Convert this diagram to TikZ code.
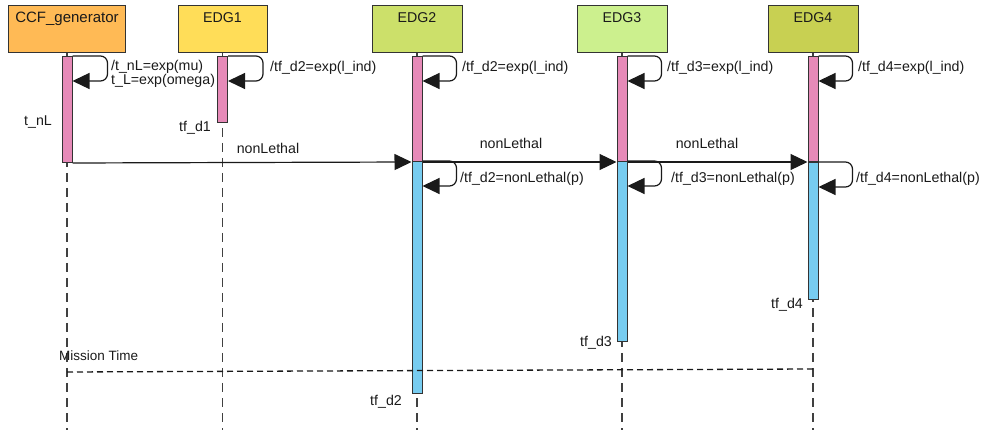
\documentclass[tikz,border=0pt]{standalone}
\usepackage{fontspec}
\setmainfont{Liberation Sans}
\usetikzlibrary{arrows.meta}
\definecolor{ccfc}{HTML}{FFBA55}
\definecolor{edgone}{HTML}{FFDD58}
\definecolor{edgtwo}{HTML}{CCE06A}
\definecolor{edgthree}{HTML}{CCF08E}
\definecolor{edgfour}{HTML}{C8D052}
\definecolor{barpink}{HTML}{E68AB8}
\definecolor{barblue}{HTML}{77CCF0}
\definecolor{ink}{HTML}{1A1A1A}
\begin{document}
\begin{tikzpicture}[x=1pt,y=-1pt,
  box/.style={draw=black!80, line width=1pt, minimum height=47pt, inner sep=0, anchor=north},
  bar/.style={draw=black!80, line width=1pt, minimum width=10pt, inner sep=0, anchor=north},
  pinkbar/.style={bar, fill=barpink},
  bluebar/.style={bar, fill=barblue},
  life/.style={draw=black!75, dash pattern=on 9pt off 6pt, line width=1.1pt},
  mission/.style={draw=black!90, dash pattern=on 6pt off 4pt, line width=1.3pt},
  msg/.style={draw=ink, line width=1.2pt, -{Triangle[length=17pt,width=16pt]}},
  loopmsg/.style={msg, rounded corners=7pt},
  lbl/.style={text=ink, font=\fontsize{14.2}{14}\selectfont, inner sep=0},
  title/.style={lbl, anchor=base},
]
\useasboundingbox (0,0) rectangle (983,430);
\coordinate (bot) at (0,430);

% header boxes
\node[box, fill=ccfc, minimum width=117pt] (ccf) at (67,5) {};
\node[box, fill=edgone, minimum width=89pt] (e1) at (222.5,5) {};
\node[box, fill=edgtwo, minimum width=90pt] (e2) at (417,5) {};
\node[box, fill=edgthree, minimum width=90pt] (e3) at (622,5) {};
\node[box, fill=edgfour, minimum width=90pt] (e4) at (813,5) {};
\node[title, font=\fontsize{15}{15}\selectfont] (tccf) at (67,23) {CCF\_generator};
\node[title] (te1) at (222.5,23) {EDG1};
\node[title] (te2) at (417,23) {EDG2};
\node[title] (te3) at (622,23) {EDG3};
\node[title] (te4) at (813,23) {EDG4};

% lifelines
\foreach \n in {ccf,e1,e2,e3,e4}
  \draw[life] (\n.south) -- (\n.south |- bot);

% activation bars
\node[pinkbar, minimum height=106pt] (b0) at (67,56) {};
\node[pinkbar, minimum height=66pt] (b1) at (222.5,56) {};
\node[pinkbar, minimum height=105pt] (p2) at (417,56) {};
\node[bluebar, minimum height=232pt] (q2) at (417,161) {};
\node[pinkbar, minimum height=105pt] (p3) at (622,56) {};
\node[bluebar, minimum height=180pt] (q3) at (622,161) {};
\node[pinkbar, minimum height=105pt] (p4) at (813,56) {};
\node[bluebar, minimum height=137pt] (q4) at (813,162) {};

% self messages (top)
\draw[loopmsg] (b0.north east) -- ++(35,0) -- ++(0,25) -- ++(-35,0);
\draw[loopmsg] (b1.north east) -- ++(35,0) -- ++(0,25) -- ++(-35,0);
\draw[loopmsg] (p2.north east) -- ++(34,0) -- ++(0,25) -- ++(-34,0);
\draw[loopmsg] (p3.north east) -- ++(34,0) -- ++(0,25) -- ++(-34,0);
\draw[loopmsg] (p4.north east) -- ++(34,0) -- ++(0,25) -- ++(-34,0);
% self messages (blue)
\draw[loopmsg] (q2.north east) -- ++(34,0) -- ++(0,25) -- ++(-34,0);
\draw[loopmsg] (q3.north east) -- ++(34,0) -- ++(0,25) -- ++(-34,0);
\draw[loopmsg] (q4.north east) -- ++(34,0) -- ++(0,25) -- ++(-34,0);

% nonLethal messages
\draw[msg] (b0.south east) -- (p2.south west);
\draw[msg] (p2.south east) -- (p3.south west);
\draw[msg] (p3.south east) -- (p4.south west);
\node[lbl, anchor=base] (n1) at (268,154) {nonLethal};
\node[lbl, anchor=base] (n2) at (511,149) {nonLethal};
\node[lbl, anchor=base] (n3) at (707,149) {nonLethal};

% loop labels
\node[lbl, anchor=base west] (l0a) at (111,71) {/t\_nL=exp(mu)};
\node[lbl, anchor=base west] (l0b) at (111,85) {t\_L=exp(omega)};
\node[lbl, anchor=base west] (l1) at (270,72) {/tf\_d2=exp(l\_ind)};
\node[lbl, anchor=base west] (l2) at (462,72) {/tf\_d2=exp(l\_ind)};
\node[lbl, anchor=base west] (l3) at (667,72) {/tf\_d3=exp(l\_ind)};
\node[lbl, anchor=base west] (l4) at (858,72) {/tf\_d4=exp(l\_ind)};
\node[lbl, anchor=base west] (m2) at (460,183) {/tf\_d2=nonLethal(p)};
\node[lbl, anchor=base west] (m3) at (671,183) {/tf\_d3=nonLethal(p)};
\node[lbl, anchor=base west] (m4) at (856,183) {/tf\_d4=nonLethal(p)};

% end labels
\node[lbl, anchor=base east] (t0) at (52,126) {t\_nL};
\node[lbl, anchor=base east] (t1) at (211,132) {tf\_d1};
\node[lbl, anchor=base east] (t2) at (402,406) {tf\_d2};
\node[lbl, anchor=base east] (t3) at (612,347) {tf\_d3};
\node[lbl, anchor=base east] (t4) at (803,309) {tf\_d4};

% mission time
\coordinate (mt1) at (67,372);
\coordinate (mt2) at (813,369);
\draw[mission] (mt1) -- (mt2);
\node[lbl, font=\fontsize{13.5}{13}\selectfont, anchor=base west] (mt) at (59,361) {Mission Time};
\end{tikzpicture}
\end{document}
